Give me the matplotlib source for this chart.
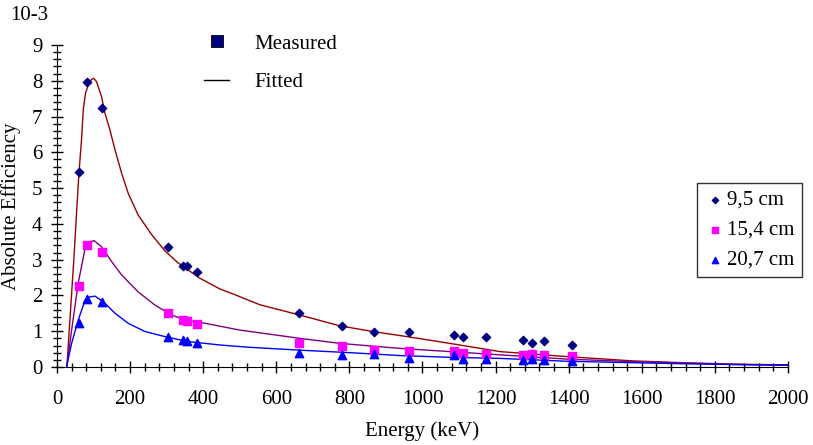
# detector efficiency vs energy, three source distances
import matplotlib.pyplot as plt
from matplotlib.lines import Line2D
from matplotlib.ticker import MultipleLocator

plt.rcParams['font.family'] = ['Liberation Serif', 'DejaVu Serif']
plt.rcParams['font.size'] = 15

# measured points (energy keV, efficiency x 1e-3)
energia = [59.5, 81, 122, 303, 344, 356, 383, 662, 779, 867, 964,
           1086, 1112, 1173, 1274, 1299, 1332, 1408]
ef_95 = [5.45, 7.97, 7.25, 3.35, 2.82, 2.82, 2.66, 1.50, 1.14, 0.98, 0.98,
         0.89, 0.84, 0.84, 0.75, 0.68, 0.73, 0.62]
ef_154 = [2.27, 3.41, 3.22, 1.50, 1.30, 1.28, 1.20, 0.68, 0.58, 0.47, 0.45,
          0.45, 0.40, 0.37, 0.34, 0.36, 0.34, 0.30]
ef_207 = [1.24, 1.91, 1.83, 0.85, 0.75, 0.73, 0.68, 0.40, 0.33, 0.37, 0.26,
          0.34, 0.21, 0.21, 0.19, 0.21, 0.20, 0.17]

# fitted curves
e_fit1 = [27, 46, 54, 60, 67, 72, 78, 86, 94, 100, 108, 122, 131, 145, 159,
          177, 195, 222, 259, 295, 330, 391, 446, 482, 555, 665, 774, 865,
          957, 1075, 1212, 1395, 1576, 1713, 1850, 2000]
fit_95 = [0, 2.99, 4.39, 5.41, 6.34, 7.20, 7.65, 7.90, 8.03, 8.07, 7.98,
          7.55, 7.10, 6.62, 6.06, 5.41, 4.85, 4.25, 3.70, 3.25, 2.92, 2.48,
          2.18, 2.04, 1.74, 1.45, 1.15, 0.99, 0.85, 0.66, 0.43, 0.29, 0.17,
          0.12, 0.08, 0.06]
e_fit2 = [27, 40, 58, 77, 90, 102, 122, 150, 177, 222, 268, 314, 359, 391,
          501, 665, 774, 938, 1075, 1212, 1395, 1576, 1713, 1850, 2000]
fit_154 = [0, 1.03, 2.34, 3.32, 3.50, 3.53, 3.36, 2.94, 2.57, 2.10, 1.73,
           1.45, 1.29, 1.25, 1.03, 0.80, 0.66, 0.52, 0.43, 0.34, 0.22, 0.15,
           0.11, 0.07, 0.05]
e_fit3 = [26, 40, 58, 77, 90, 104, 127, 159, 195, 241, 295, 359, 451, 528,
          665, 802, 938, 1075, 1212, 1395, 1576, 1713, 1850, 2000]
fit_207 = [0, 0.66, 1.31, 1.87, 1.96, 1.98, 1.82, 1.50, 1.22, 0.99, 0.85,
           0.71, 0.61, 0.55, 0.47, 0.40, 0.32, 0.27, 0.24, 0.16, 0.12, 0.09,
           0.07, 0.05]

fig = plt.figure(figsize=(8.13, 4.45), dpi=100)
ax = fig.add_axes([0.0701, 0.1753, 0.8991, 0.7236])

ax.plot(e_fit1, fit_95, color='#990000', lw=1)
ax.plot(e_fit2, fit_154, color='#800080', lw=1)
ax.plot(e_fit3, fit_207, color='#0000ff', lw=1)

s1 = ax.scatter(energia, ef_95, marker='D', s=18, color='#000080', zorder=3)
s2 = ax.scatter(energia, ef_154, marker='s', s=32, color='#ff00ff', zorder=3)
s3 = ax.scatter(energia, ef_207, marker='^', s=36, color='#0000ff', zorder=3)

ax.set_xlim(0, 2000)
ax.set_ylim(0, 9)
ax.xaxis.set_major_locator(MultipleLocator(200))
ax.xaxis.set_minor_locator(MultipleLocator(40))
ax.yaxis.set_major_locator(MultipleLocator(1))
ax.yaxis.set_minor_locator(MultipleLocator(0.2))
ax.tick_params(which='major', direction='inout', length=9, width=1)
ax.tick_params(which='minor', direction='inout', length=6, width=1)
ax.tick_params(axis='x', pad=12)
ax.tick_params(axis='y', pad=6)
for s in ['top', 'right']:
    ax.spines[s].set_visible(False)

ax.set_xlabel('Energy (keV)', labelpad=9)
ax.set_ylabel('Absolute Efficiency', labelpad=8)
fig.text(0.012, 0.955, '10-3', fontsize=15)

leg1 = ax.legend([s1, s2, s3], ['9,5 cm', '15,4 cm', '20,7 cm'],
                 loc='upper left', bbox_to_anchor=(0.8755, 0.571),
                 frameon=True, fancybox=False, edgecolor='black',
                 handletextpad=0.1, handlelength=1.0, borderpad=0.35,
                 labelspacing=0.5, markerscale=0.75, borderaxespad=0)
leg1.get_frame().set_linewidth(1)
ax.add_artist(leg1)

h_meas = Line2D([], [], marker='s', ls='none', markersize=8,
                markerfacecolor='#000080', markeredgecolor='black',
                markeredgewidth=0.6)
h_fit = Line2D([], [], color='black', lw=1)
ax.legend([h_meas, h_fit], ['Measured', 'Fitted'], loc='upper left',
          bbox_to_anchor=(0.19, 1.06), frameon=False, handlelength=1.2,
          handletextpad=1.2, labelspacing=0.9, borderaxespad=0)

fig.savefig('out.png', dpi=100)
